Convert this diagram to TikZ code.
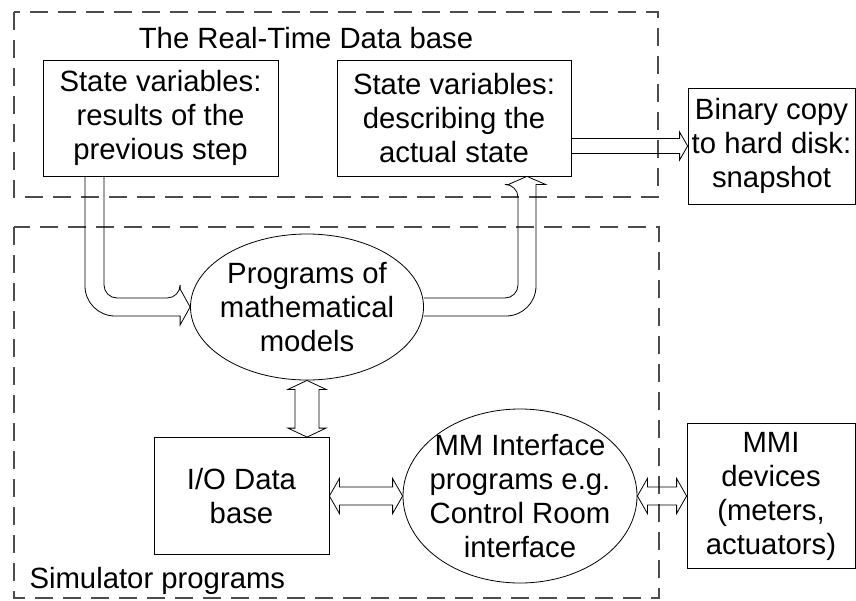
\documentclass[tikz,border=0pt]{standalone}
\usepackage{fontspec}
\setmainfont{Liberation Sans}
\usetikzlibrary{shapes.geometric,calc}

\begin{document}
\begin{tikzpicture}[x=1pt,y=-1pt,font=\fontsize{29.3}{34}\selectfont,
    box/.style={draw,line width=0.8pt,align=center,inner sep=0pt},
    oval/.style={ellipse,draw,line width=0.8pt,inner sep=0pt},
    zone/.style={draw=black!70,line width=1.2pt,dash pattern=on 18pt off 10pt},
    hollow/.style={draw,line width=0.8pt}]

            \useasboundingbox (0,0) rectangle (856,600);

            \draw[zone] (14,12) rectangle (658,197);
            \draw[zone] (14,227) rectangle (659,598);

            \node at (306,38) (rtdb) {The Real-Time Data base};
            \node[box,minimum width=235pt,minimum height=116pt] at (160.5,118) (prev) {State variables:\\results of the\\previous step};
            \node[box,minimum width=234pt,minimum height=116pt] at (454,118) (act) {State variables:\\describing the\\actual state};
            \node[box,minimum width=167pt,minimum height=116pt] at (771.5,146) (snap) {Binary copy\\to hard disk:\\snapshot};
            \node[oval,minimum width=233pt,minimum height=146pt,label={[align=center]center:{Programs of\\mathematical\\models}}] at (307,307) (models) {};
            \node[box,minimum width=175pt,minimum height=117pt] at (241.5,496) (io) {I/O Data\\base};
            \node[oval,minimum width=234pt,minimum height=174pt,label={[align=center]center:{MM Interface\\programs e.g.\\Control Room\\interface}}] at (520,496) (mmif) {};
            \node[box,minimum width=168pt,minimum height=145pt] at (771,496) (mmi) {MMI\\devices\\(meters,\\actuators)};
            \node[anchor=west] at (26,581) (sim) {Simulator programs};

            % hollow arrows
            \draw[hollow] ($(act.east |- snap.west)+(0,-7.5)$) -- ($(snap.west)+(-8,-7.5)$) -- ++(0,-6.5) -- (snap.west) -- ++(-8,14) -- ++(0,-6.5) -- ($(act.east |- snap.west)+(0,7.5)$);
            \draw[hollow] ($(prev.south)+(-56.5,0)$) [rounded corners=13pt] |- ($(models.west)+(-10,-9)$) [sharp corners] -- ++(0,-9) -- (models.west) -- ++(-10,18) -- ++(0,-9) [rounded corners=30pt] -| ($(prev.south)+(-75.5,0)$);
            \draw[hollow] ($(models.east)+(0,-9)$) [rounded corners=13pt] -| ($(act.south)+(64,8)$) [sharp corners] -- ++(-9.5,0) -- ($(act.south)+(73,0)$) -- ++(18.5,8) -- ++(-9.5,0) [rounded corners=30pt] |- ($(models.east)+(0,9)$);
            \draw[hollow] (models.south) -- ++(19,9) -- ++(-7,0) -- ($(models.south |- io.north)+(12,-9)$) -- ++(7,0) -- (models.south |- io.north) -- ++(-19,-9) -- ++(7,0) -- ($(models.south)+(-12,9)$) -- ++(-7,0) -- cycle;
            \draw[hollow] (io.east) -- ++(10,-17.5) -- ++(0,8.5) -- ($(mmif.west)+(-10,-9)$) -- ++(0,-8.5) -- (mmif.west) -- ++(-10,17.5) -- ++(0,-8.5) -- ($(io.east)+(10,9)$) -- ++(0,8.5) -- cycle;
            \draw[hollow] (mmif.east) -- ++(10,-17.5) -- ++(0,8.5) -- ($(mmi.west)+(-10,-9)$) -- ++(0,-8.5) -- (mmi.west) -- ++(-10,17.5) -- ++(0,-8.5) -- ($(mmif.east)+(10,9)$) -- ++(0,8.5) -- cycle;
        \end{tikzpicture}
\end{document}
